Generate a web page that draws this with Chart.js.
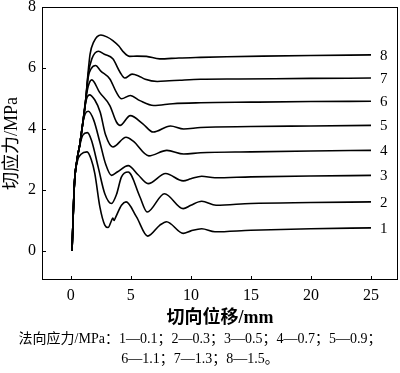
<!DOCTYPE html>
<html>
<head>
<meta charset="utf-8">
<script src="https://cdn.jsdelivr.net/npm/chart.js@4/dist/chart.umd.min.js"></script>
<style>
  body { margin: 0; background: #fff; }
  #wrap { position: relative; width: 400px; height: 330px; }
  .caption {
    position: absolute; left: 0; top: 329px; width: 400px;
    text-align: center; font: 14px "Liberation Serif", "Noto Sans CJK SC", serif;
    line-height: 20px; color: #000;
  }
</style>
</head>
<body>
<div id="wrap"><canvas id="myChart"></canvas></div>
<div class="caption">法向应力/MPa：1—0.1；2—0.3；3—0.5；4—0.7；5—0.9；<br>6—1.1；7—1.3；8—1.5。</div>
<script>
/* global Chart */

// tick labels
const xTicks = [0, 5, 10, 15, 20, 25];
const yTicks = [0, 2, 4, 6, 8];
const curveLabels = ["1", "2", "3", "4", "5", "6", "7", "8"];

// tangential displacement (mm) / shear stress (MPa)
const disp1 = [0.1, 0.3, 0.55, 0.85, 1.35, 1.7, 2.0, 2.42, 2.83, 3.1, 3.39, 3.5, 3.6, 3.75, 4.22, 4.6, 5.47, 6.4, 7.42, 7.97, 9.36, 10, 10.9, 12, 15, 20, 25];
const stress1 = [0, 2.2, 2.95, 3.17, 3.25, 3.0, 2.54, 1.45, 0.85, 0.77, 1.0, 1.08, 1.0, 1.12, 1.5, 1.61, 1.12, 0.49, 0.85, 0.96, 0.58, 0.66, 0.73, 0.63, 0.68, 0.73, 0.76];

const disp2 = [0.1, 0.3, 0.55, 0.8, 1.0, 1.38, 1.72, 2.28, 2.83, 3.39, 3.8, 4.22, 4.78, 5.75, 6.36, 7.8, 9.36, 10, 10.9, 12.1, 15, 20, 25];
const stress2 = [0, 2.2, 3.05, 3.55, 3.8, 3.88, 3.63, 2.75, 1.88, 1.56, 1.85, 2.43, 2.59, 1.78, 1.28, 1.88, 1.39, 1.5, 1.63, 1.5, 1.56, 1.59, 1.61];

const disp3 = [0.1, 0.3, 0.5, 0.75, 1.0, 1.2, 1.45, 1.9, 2.4, 2.9, 3.39, 3.9, 4.78, 5.6, 6.44, 7.9, 9.36, 10, 10.9, 12, 15, 20, 25];
const stress3 = [0, 2.2, 2.95, 3.5, 4.2, 4.5, 4.58, 4.3, 3.6, 2.85, 2.48, 2.6, 2.8, 2.5, 2.21, 2.54, 2.3, 2.37, 2.45, 2.4, 2.43, 2.46, 2.48];

const disp4 = [0.1, 0.3, 0.5, 0.75, 1.0, 1.25, 1.55, 2.0, 2.45, 2.9, 3.5, 4.6, 5.2, 6.5, 8.0, 9.4, 10.8, 15, 20, 25];
const stress4 = [0, 2.2, 2.95, 3.5, 4.2, 4.9, 5.12, 4.95, 4.55, 3.8, 3.41, 3.73, 3.6, 3.12, 3.3, 3.18, 3.22, 3.25, 3.28, 3.3];

const disp5 = [0.1, 0.3, 0.5, 0.75, 1.0, 1.2, 1.45, 1.75, 2.4, 3.25, 3.8, 4.1, 4.95, 6.0, 6.86, 8.3, 9.4, 10.8, 15, 20, 25];
const stress5 = [0, 2.2, 2.95, 3.5, 4.2, 4.85, 5.4, 5.61, 5.2, 4.77, 4.23, 4.12, 4.44, 4.17, 3.9, 4.1, 4.0, 4.05, 4.08, 4.1, 4.12];

const disp6 = [0.1, 0.3, 0.5, 0.75, 1.0, 1.2, 1.45, 1.7, 2.06, 2.5, 3.25, 3.8, 4.22, 4.95, 5.75, 6.9, 8.5, 10.8, 15, 20, 25];
const stress6 = [0, 2.2, 2.95, 3.5, 4.2, 4.8, 5.7, 5.98, 6.08, 5.9, 5.64, 5.2, 4.99, 5.1, 4.93, 4.77, 4.83, 4.86, 4.88, 4.9, 4.91];

const disp7 = [0.1, 0.3, 0.5, 0.75, 1.0, 1.2, 1.45, 1.75, 2.3, 2.8, 3.5, 4.1, 4.5, 5.1, 5.6, 6.2, 7.2, 8.2, 9.1, 10.8, 14, 20, 25];
const stress7 = [0, 2.2, 2.95, 3.5, 4.2, 4.8, 5.8, 6.3, 6.55, 6.45, 6.3, 5.86, 5.67, 5.8, 5.75, 5.63, 5.56, 5.58, 5.6, 5.63, 5.64, 5.66, 5.67];

const disp8 = [0.1, 0.3, 0.5, 0.75, 1.0, 1.2, 1.45, 1.6, 1.9, 2.5, 3.0, 3.5, 4.0, 4.4, 4.9, 5.5, 6.3, 7.4, 9.0, 10.8, 13, 16, 20, 25];
const stress8 = [0, 2.2, 2.95, 3.5, 4.2, 4.8, 5.9, 6.45, 6.85, 7.08, 7.02, 6.9, 6.72, 6.52, 6.38, 6.39, 6.38, 6.3, 6.33, 6.35, 6.37, 6.39, 6.41, 6.43];

const dispList = [disp1, disp2, disp3, disp4, disp5, disp6, disp7, disp8];
const stressList = [stress1, stress2, stress3, stress4, stress5, stress6, stress7, stress8];

const serif = '"Liberation Serif", "Noto Sans CJK SC", serif';

// frame, inward ticks and curve numbers
const framePlugin = {
  id: "frame",
  afterDraw(chart) {
    const { ctx, chartArea: a, scales } = chart;
    ctx.save();
    ctx.strokeStyle = "#000";
    ctx.lineWidth = 1;
    ctx.strokeRect(a.left + 0.5, a.top + 0.5, a.right - a.left - 1, a.bottom - a.top - 1);
    ctx.beginPath();
    xTicks.forEach((v) => {
      const px = Math.round(scales.x.getPixelForValue(v)) + 0.5;
      ctx.moveTo(px, a.bottom);
      ctx.lineTo(px, a.bottom - 4);
    });
    yTicks.forEach((v) => {
      const py = Math.round(scales.y.getPixelForValue(v)) + 0.5;
      ctx.moveTo(a.left, py);
      ctx.lineTo(a.left + 4, py);
    });
    ctx.stroke();
    ctx.fillStyle = "#000";
    ctx.font = "15px " + serif;
    ctx.textAlign = "left";
    ctx.textBaseline = "middle";
    chart.data.datasets.forEach((ds, i) => {
      const last = ds.data[ds.data.length - 1];
      ctx.fillText(curveLabels[i], scales.x.getPixelForValue(last.x) + 9, scales.y.getPixelForValue(last.y) + 1);
    });
    ctx.restore();
  },
};

const ctx = document.getElementById("myChart").getContext("2d");

new Chart(ctx, {
  type: "line",
  data: {
    datasets: stressList.map((ys, i) => ({
      label: curveLabels[i],
      data: ys.map((y, j) => ({ x: dispList[i][j], y })),
      borderColor: "#000",
      borderWidth: 1.6,
      pointRadius: 0,
      fill: false,
      cubicInterpolationMode: "monotone",
    })),
  },
  options: {
    responsive: true,
    maintainAspectRatio: false,
    animation: false,
    layout: { padding: { top: 7, right: 2, left: 0, bottom: 0 } },
    plugins: {
      legend: { display: false },
      tooltip: { enabled: false },
    },
    scales: {
      x: {
        type: "linear",
        min: -2.4,
        max: 27.25,
        grid: { display: false, drawTicks: false },
        border: { display: false },
        afterBuildTicks: (s) => { s.ticks = xTicks.map((v) => ({ value: v })); },
        afterFit: (s) => { s.height = 50; s.paddingLeft = 0; s.paddingRight = 0; },
        ticks: { color: "#000", font: { family: serif, size: 16 }, padding: 6, maxRotation: 0 },
        title: {
          display: true,
          text: "切向位移/mm",
          color: "#000",
          font: { family: serif, size: 18, weight: "bold" },
          padding: { top: 0, bottom: 1 },
        },
      },
      y: {
        min: -0.95,
        max: 8,
        grid: { display: false, drawTicks: false },
        border: { display: false },
        afterBuildTicks: (s) => { s.ticks = yTicks.map((v) => ({ value: v })); },
        afterFit: (s) => { s.width = 42; s.paddingTop = 0; s.paddingBottom = 0; },
        ticks: { color: "#000", font: { family: serif, size: 16 }, padding: 6 },
        title: {
          display: true,
          text: "切应力/MPa",
          color: "#000",
          font: { family: serif, size: 18 },
          padding: { top: 1, bottom: 0 },
        },
      },
    },
  },
  plugins: [framePlugin],
});
</script>
</body>
</html>
